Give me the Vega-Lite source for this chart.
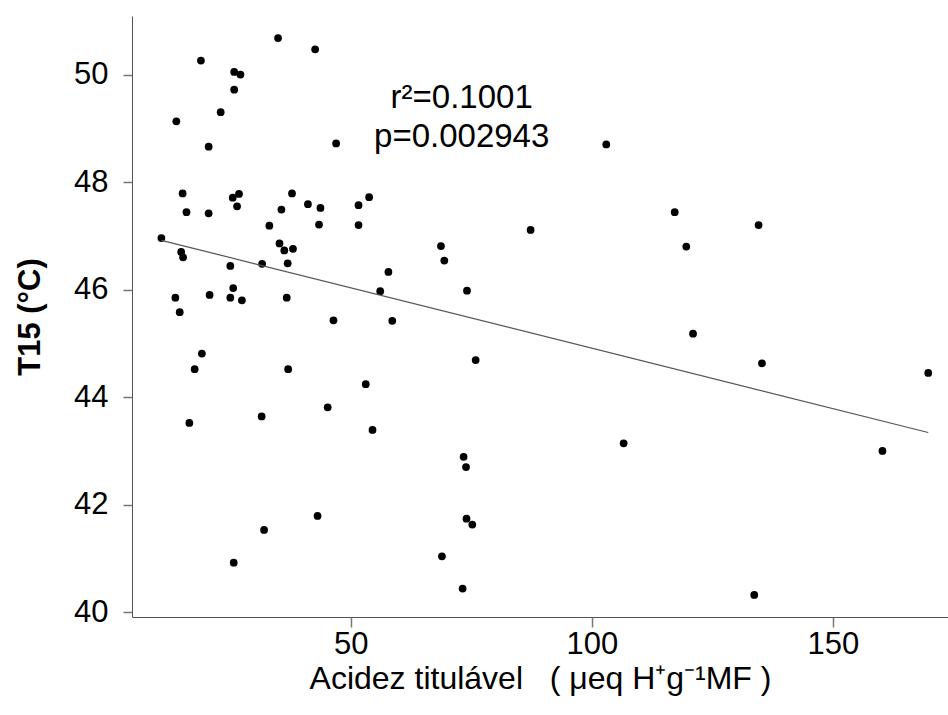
{
  "$schema": "https://vega.github.io/schema/vega-lite/v6.json",
  "width": 816,
  "height": 601,
  "autosize": {"type": "none"},
  "padding": {"left": 132, "top": 16, "right": 0, "bottom": 98},
  "background": "white",
  "config": {"view": {"stroke": null}, "font": "Liberation Sans"},
  "datasets": {
    "pts": [
      {"acidez": 34.9, "t15": 50.68}, {"acidez": 42.6, "t15": 50.47}, {"acidez": 18.9, "t15": 50.26},
      {"acidez": 25.8, "t15": 50.05}, {"acidez": 27.1, "t15": 50.0}, {"acidez": 25.8, "t15": 49.72},
      {"acidez": 23.0, "t15": 49.3}, {"acidez": 13.8, "t15": 49.13}, {"acidez": 20.5, "t15": 48.66},
      {"acidez": 46.95, "t15": 48.72}, {"acidez": 15.1, "t15": 47.79}, {"acidez": 25.5, "t15": 47.71},
      {"acidez": 26.8, "t15": 47.78}, {"acidez": 37.8, "t15": 47.79}, {"acidez": 26.4, "t15": 47.55},
      {"acidez": 15.9, "t15": 47.44}, {"acidez": 20.5, "t15": 47.42}, {"acidez": 35.6, "t15": 47.49},
      {"acidez": 41.1, "t15": 47.59}, {"acidez": 43.7, "t15": 47.52}, {"acidez": 51.6, "t15": 47.57},
      {"acidez": 33.1, "t15": 47.19}, {"acidez": 43.4, "t15": 47.21}, {"acidez": 51.6, "t15": 47.2},
      {"acidez": 53.8, "t15": 47.72}, {"acidez": 10.7, "t15": 46.96}, {"acidez": 14.8, "t15": 46.7},
      {"acidez": 15.2, "t15": 46.6}, {"acidez": 35.2, "t15": 46.86}, {"acidez": 36.2, "t15": 46.73},
      {"acidez": 38.0, "t15": 46.76}, {"acidez": 25.0, "t15": 46.44}, {"acidez": 31.6, "t15": 46.48},
      {"acidez": 36.9, "t15": 46.49}, {"acidez": 25.6, "t15": 46.03}, {"acidez": 13.6, "t15": 45.85},
      {"acidez": 20.7, "t15": 45.9}, {"acidez": 25.0, "t15": 45.85}, {"acidez": 27.4, "t15": 45.8},
      {"acidez": 36.7, "t15": 45.85}, {"acidez": 14.5, "t15": 45.58}, {"acidez": 46.4, "t15": 45.43},
      {"acidez": 19.1, "t15": 44.81}, {"acidez": 17.6, "t15": 44.52}, {"acidez": 37.0, "t15": 44.52},
      {"acidez": 45.2, "t15": 43.81}, {"acidez": 31.5, "t15": 43.64}, {"acidez": 16.5, "t15": 43.52},
      {"acidez": 43.1, "t15": 41.79}, {"acidez": 32.0, "t15": 41.53}, {"acidez": 25.7, "t15": 40.92},
      {"acidez": 103.0, "t15": 48.7}, {"acidez": 87.3, "t15": 47.11}, {"acidez": 68.7, "t15": 46.81},
      {"acidez": 69.4, "t15": 46.54}, {"acidez": 57.8, "t15": 46.33}, {"acidez": 56.1, "t15": 45.97},
      {"acidez": 74.1, "t15": 45.98}, {"acidez": 58.6, "t15": 45.42}, {"acidez": 75.9, "t15": 44.69},
      {"acidez": 53.1, "t15": 44.24}, {"acidez": 54.5, "t15": 43.39}, {"acidez": 106.6, "t15": 43.14},
      {"acidez": 73.4, "t15": 42.89}, {"acidez": 73.9, "t15": 42.7}, {"acidez": 74.0, "t15": 41.74},
      {"acidez": 75.2, "t15": 41.63}, {"acidez": 68.9, "t15": 41.04}, {"acidez": 73.2, "t15": 40.44},
      {"acidez": 117.2, "t15": 47.44}, {"acidez": 134.6, "t15": 47.2}, {"acidez": 119.6, "t15": 46.8},
      {"acidez": 121.0, "t15": 45.18}, {"acidez": 135.3, "t15": 44.63}, {"acidez": 169.8, "t15": 44.45},
      {"acidez": 160.3, "t15": 43.0}, {"acidez": 133.7, "t15": 40.32}
    ],
    "ann": [
      {"acidez": 73.0, "t15": 49.56, "label": "r²=0.1001"},
      {"acidez": 73.0, "t15": 48.84, "label": "p=0.002943"}
    ]
  },
  "layer": [
    {
      "data": {"name": "pts"},
      "mark": {"type": "circle", "size": 60, "color": "black", "opacity": 1},
      "encoding": {
        "x": {
          "field": "acidez", "type": "quantitative",
          "scale": {"domain": [4.6, 173.9], "nice": false, "zero": false},
          "axis": {
            "values": [50, 100, 150], "format": "d", "grid": false,
            "domainColor": "#555", "tickColor": "#777", "tickSize": 10, "tickWidth": 1.5,
            "labelFontSize": 31, "labelColor": "black", "labelPadding": 2,
            "title": "Acidez titulável\u00a0\u00a0\u00a0(\u00a0μeq H⁺g⁻¹MF\u00a0)",
            "titleFontSize": 32, "titleFontWeight": "normal", "titleColor": "black", "titlePadding": 4
          }
        },
        "y": {
          "field": "t15", "type": "quantitative",
          "scale": {"domain": [39.91, 51.09], "nice": false, "zero": false},
          "axis": {
            "values": [40, 42, 44, 46, 48, 50], "format": "d", "grid": false,
            "domainColor": "#555", "tickColor": "#777", "tickSize": 9, "tickWidth": 1.5,
            "labelFontSize": 31, "labelColor": "black", "labelPadding": 15,
            "title": "T15 (°C)",
            "titleFontSize": 31, "titleFontWeight": "bold", "titleColor": "black", "titlePadding": 27
          }
        }
      }
    },
    {
      "data": {"name": "pts"},
      "transform": [{"regression": "t15", "on": "acidez"}],
      "mark": {"type": "line", "color": "#555", "strokeWidth": 1.2},
      "encoding": {
        "x": {"field": "acidez", "type": "quantitative"},
        "y": {"field": "t15", "type": "quantitative"}
      }
    },
    {
      "data": {"name": "ann"},
      "mark": {"type": "text", "fontSize": 33, "color": "black", "align": "center", "baseline": "middle"},
      "encoding": {
        "x": {"field": "acidez", "type": "quantitative"},
        "y": {"field": "t15", "type": "quantitative"},
        "text": {"field": "label"}
      }
    }
  ]
}
